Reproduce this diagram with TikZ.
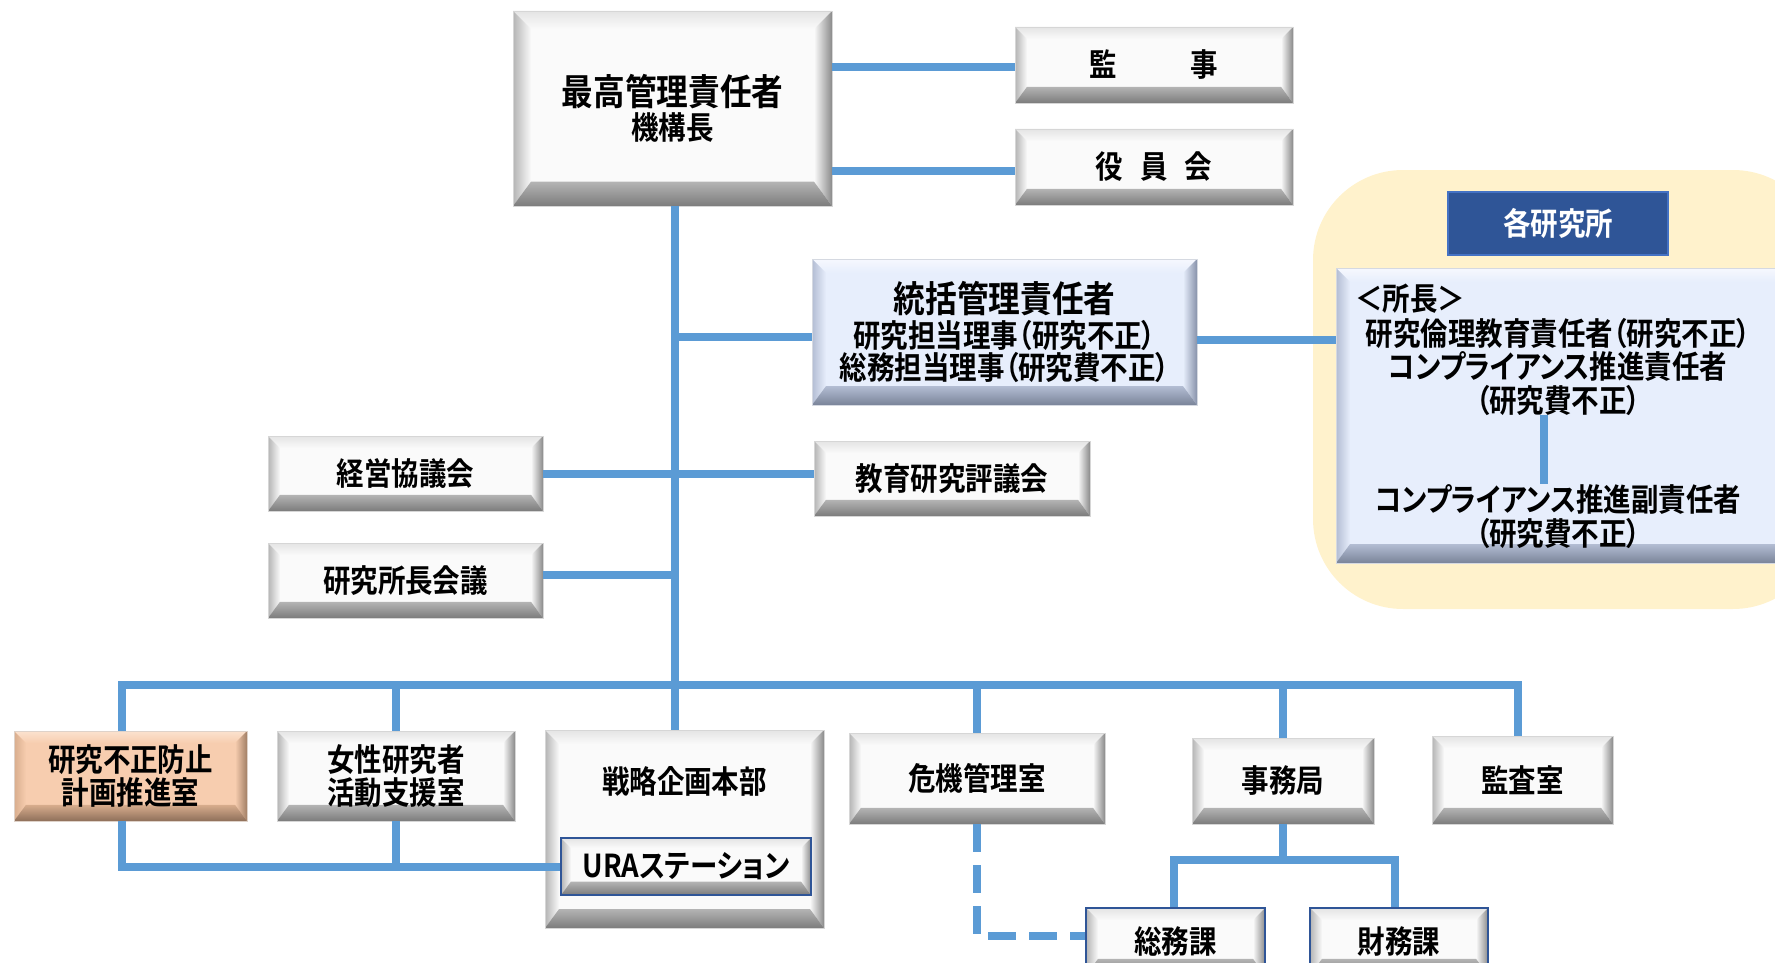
\documentclass[tikz,border=0pt]{standalone}
\usepackage{fontspec}
\newfontfamily\jp{Noto Sans CJK JP Bold}[RawFeature={+palt}, FakeStretch=0.87]
\usetikzlibrary{calc}
\definecolor{lnblue}{HTML}{5B9BD5}
\definecolor{yel}{HTML}{FFF2CC}
\definecolor{navy}{HTML}{2F5597}
\definecolor{navyedge}{HTML}{4472C4}
% white buttons
\definecolor{wface}{HTML}{FAFAFA}
\definecolor{wtop}{HTML}{E4E4E4}
\definecolor{wleft}{HTML}{B4B4B4}
\definecolor{wright}{HTML}{8A8A8A}
\definecolor{wbot}{HTML}{7C7C7C}
% lavender buttons
\definecolor{lface}{HTML}{E7EEFC}
\definecolor{ltop}{HTML}{F6F8FE}
\definecolor{lleft}{HTML}{B3BDD3}
\definecolor{lright}{HTML}{8792AA}
\definecolor{lbot}{HTML}{7A8499}
% peach button
\definecolor{pface}{HTML}{F7CDAF}
\definecolor{ptop}{HTML}{FBE2CF}
\definecolor{pleft}{HTML}{D8AD8D}
\definecolor{pright}{HTML}{A27F66}
\definecolor{pbot}{HTML}{8E6F5A}
\def\bevsize{12pt}
\tikzset{
  bev/.store in=\bevsize,
  btn/.style n args={5}{rectangle, fill=#1, draw=#4!35, line width=0.6pt,
    inner sep=0pt, align=center,
    path picture={
      \coordinate (pnw) at (path picture bounding box.north west);
      \coordinate (pne) at (path picture bounding box.north east);
      \coordinate (psw) at (path picture bounding box.south west);
      \coordinate (pse) at (path picture bounding box.south east);
      \coordinate (inw) at ([xshift=\bevsize,yshift=-\bevsize]pnw);
      \coordinate (ine) at ([xshift=-\bevsize,yshift=-\bevsize]pne);
      \coordinate (isw) at ([xshift=\bevsize,yshift=1.35*\bevsize]psw);
      \coordinate (ise) at ([xshift=-\bevsize,yshift=1.35*\bevsize]pse);
      \shade[top color=#2, bottom color=#1] (pnw) -- (pne) -- (ine) -- (inw) -- cycle;
      \shade[left color=#3, right color=#1] (pnw) -- (inw) -- (isw) -- (psw) -- cycle;
      \shade[left color=#1, right color=#4] (pne) -- (ine) -- (ise) -- (pse) -- cycle;
      \shade[top color=#3, bottom color=#5] (psw) -- (isw) -- (ise) -- (pse) -- cycle;
    }},
  wbtn/.style={btn={wface}{wtop}{wleft}{wright}{wbot}},
  lbtn/.style={btn={lface}{ltop}{lleft}{lright}{lbot}},
  pbtn/.style={btn={pface}{ptop}{pleft}{pright}{pbot}},
  blueedge/.style={draw=navy, line width=1.6pt},
  conn/.style={draw=lnblue, line width=8pt},
  dconn/.style={draw=lnblue, line width=8pt, dash pattern=on 28pt off 13pt},
  txt/.style={align=center, inner sep=0pt},
}
\begin{document}
\begin{tikzpicture}[x=1pt,y=-1pt, every node/.append style={font=\jp\fontsize{31.6}{33.5}\selectfont}]
\useasboundingbox (0,0) rectangle (1775,963);

% background group of institutes
\node[fill=yel, rounded corners=90pt, minimum width=510pt, minimum height=439pt, inner sep=0pt] (instbg) at (1568,389.5) {};

% top level
\node[wbtn, bev=18pt, minimum width=319pt, minimum height=195pt] (top) at (672.5,108.5)
  {\fontsize{36.4}{37}\selectfont 最高管理責任者\\[1pt]\fontsize{31.6}{32}\selectfont 機構長};
\node[wbtn, minimum width=278pt, minimum height=76pt] (kanji) at (1154,65) {監\hspace{74pt}事};
\node[wbtn, minimum width=278pt, minimum height=76pt] (yakuin) at (1154,167) {役\hspace{17pt}員\hspace{17pt}会};

\node[lbtn, bev=14pt, minimum width=385pt, minimum height=146pt] (toukatsu) at (1004.5,332)
  {\fontsize{36.4}{37}\selectfont 統括管理責任者\\[1pt]研究担当理事（研究不正）\\[-1pt]総務担当理事（研究費不正）};

\node[fill=navy, draw=navyedge, line width=1.5pt, text=white, minimum width=220pt, minimum height=63pt] (kaku) at (1558,223.5) {各研究所};
\node[lbtn, bev=14pt, minimum width=454pt, minimum height=295pt] (shocho) at (1563,415.5) {};
\node[txt, anchor=west] (shochoT) at (1355,299) {＜所長＞};
\node[txt] (resp) at (1558,366.5) {研究倫理教育責任者（研究不正）\\コンプライアンス推進責任者\\（研究費不正）};
\node[txt] (vice) at (1558,516.5) {コンプライアンス推進副責任者\\（研究費不正）};

\node[wbtn, minimum width=275pt, minimum height=75pt] (keiei) at (405.5,473.5) {経営協議会};
\node[wbtn, minimum width=276pt, minimum height=75pt] (kyoiku) at (952,478.5) {教育研究評議会};
\node[wbtn, minimum width=275pt, minimum height=75pt] (kaigi) at (405.5,580.5) {研究所長会議};

% bottom row
\node[pbtn, minimum width=233pt, minimum height=90pt] (fusei) at (130.5,776) {研究不正防止\\計画推進室};
\node[wbtn, minimum width=238pt, minimum height=90pt] (josei) at (396,776) {女性研究者\\活動支援室};
\node[wbtn, bev=14pt, minimum width=279pt, minimum height=198pt] (senryaku) at (684.5,829) {};
\node[txt] (senryakuT) at (684.5,781) {戦略企画本部};
\node[wbtn, blueedge, bev=10pt, minimum width=250pt, minimum height=57pt] (ura) at (686,866.5) {URAステーション};
\node[wbtn, minimum width=256pt, minimum height=91pt] (kiki) at (977,778.5) {危機管理室};
\node[wbtn, minimum width=182pt, minimum height=86pt] (jimu) at (1283,781) {事務局};
\node[wbtn, minimum width=181pt, minimum height=88pt] (kansa) at (1522.5,780) {監査室};
\node[wbtn, blueedge, minimum width=179pt, minimum height=67pt] (somu) at (1175.5,941.5) {総務課};
\node[wbtn, blueedge, minimum width=178pt, minimum height=67pt] (zaimu) at (1399,941.5) {財務課};

% coordinates for connectors
\coordinate (bus) at (675,685);
\coordinate (busL) at (122,685);
\coordinate (busR) at (1518,685);
\coordinate (jb) at (1283,860);
\coordinate (jbL) at (1174,860);
\coordinate (jbR) at (1395,860);
\coordinate (vx) at (1544,0);

% connectors
\draw[conn] (top.east |- 0,67) -- (kanji.west |- 0,67);
\draw[conn] (top.east |- 0,171) -- (yakuin.west |- 0,171);
\draw[conn] (top.south -| bus) -- (bus);
\draw[conn] (bus |- 0,337) -- (toukatsu.west |- 0,337);
\draw[conn] (toukatsu.east |- 0,340) -- (shocho.west |- 0,340);
\draw[conn] (resp.south -| vx) -- (vx |- vice.north);
\draw[conn] (keiei.east |- 0,474) -- (kyoiku.west |- 0,474);
\draw[conn] (kaigi.east |- 0,575) -- (bus |- 0,575);
\draw[conn, line cap=rect] (busL) -- (busR);
\draw[conn] (busL) -- (busL |- fusei.north);
\draw[conn] (bus -| josei) -- (josei.north);
\draw[conn] (bus) -- (bus |- senryaku.north);
\draw[conn] (bus -| kiki) -- (kiki.north);
\draw[conn] (bus -| jimu) -- (jimu.north);
\draw[conn] (busR) -- (busR |- kansa.north);
\draw[conn] (busL |- fusei.south) -- (busL |- ura.west) -- (ura.west);
\draw[conn] (josei.south) -- (josei.south |- ura.west);
\draw[dconn] (kiki.south) -- (kiki.south |- 0,936) -- (somu.west |- 0,936);
\draw[conn] (jimu.south) -- (jb);
\draw[conn] (jbL |- somu.north) -- (jbL) -- (jbR) -- (jbR |- zaimu.north);
\end{tikzpicture}
\end{document}
